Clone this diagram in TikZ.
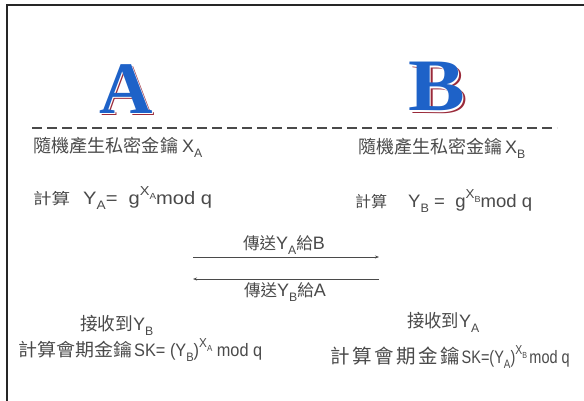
\documentclass[tikz,border=0pt]{standalone}
\usepackage{fontspec}
\usepackage{graphicx}
\setmainfont{Liberation Sans}
\newfontfamily\cjk{Noto Sans CJK TC}
\newfontfamily\bigserif{Liberation Serif}
\definecolor{txt}{HTML}{4A4A4A}
\definecolor{letterblue}{HTML}{1E62C8}
\definecolor{lettershadow}{HTML}{9A2A3A}
\definecolor{dashgray}{HTML}{4A4A4A}
\newcommand{\sbs}[1]{\raisebox{-0.28em}{\scalebox{0.68}{#1}}}
\newcommand{\sps}[1]{\raisebox{0.5em}{\scalebox{0.72}{#1}}}
\newcommand{\fit}[2]{\resizebox{#1}{\height}{#2}}
\newcommand{\bigletter}[2]{\rlap{\hspace{2.6pt}\raisebox{-2.6pt}{\textcolor{lettershadow}{\scalebox{#2}[1]{#1}}}}\rlap{\hspace{1.2pt}\raisebox{-1.2pt}{\textcolor{white}{\scalebox{#2}[1]{#1}}}}\textcolor{letterblue}{\scalebox{#2}[1]{#1}}}
\usetikzlibrary{arrows.meta}
\tikzset{
  txtnode/.style={inner sep=0pt, anchor=west, text=txt, font=\fontsize{18}{20}\selectfont},
  letterfont/.style={inner sep=0pt, font=\fontsize{74}{74}\bigserif\bfseries},
  sendarrow/.style={draw=txt, line width=0.8pt, -{Stealth[length=4pt,width=3pt]}},
  dashline/.style={draw=dashgray, line width=2pt, dash pattern=on 10pt off 5pt},
  framestyle/.style={draw=black!85, line width=2pt}
}
\newcommand{\ck}[1]{{\cjk\fontsize{18}{20}\selectfont #1}}
\newcommand{\ckl}[1]{{\cjk\fontsize{19.5}{21}\selectfont #1}}
\newcommand{\cks}[1]{{\cjk\fontsize{15.5}{18}\selectfont #1}}
\newcommand{\ckm}[1]{{\cjk\fontsize{16.5}{18}\selectfont #1}}
\newcommand{\gapx}{\hspace{2.5pt}}
\begin{document}
\begin{tikzpicture}[x=1pt,y=-1pt]
\useasboundingbox (0,0) rectangle (584,400);
\fill[white] (0,0) rectangle (584,400);
\draw[framestyle] (6.5,410) -- (6.5,4.5) -- (600,4.5);

% big letters
\node[letterfont] (letA) at (126,90) {\bigletter{A}{1}};
\node[letterfont] (letB) at (437,88) {\bigletter{B}{1.15}};

% dashed line
\coordinate (d1) at (32,128);
\coordinate (d2) at (557,128);
\draw[dashline] (d1) -- (d2);

% A side
\node[txtnode] (xa) at (33,147) {\fit{145pt}{\ck{隨機產生私密金鑰}}\hspace{4pt}X\sbs{A}};
\node[txtnode] (ya) at (33,198) {\fit{37pt}{\cks{計算}}\hspace{13pt}\fit{129pt}{Y\sbs{A}=\ \ g\sps{X\sbs{A}}mod q}};

% B side
\node[txtnode] (xb) at (358,148) {\fit{144pt}{\ck{隨機產生私密金鑰}}\hspace{3pt}X\sbs{B}};
\node[txtnode] (yb) at (355,201) {\fit{32pt}{\cks{計算}}\hspace{21pt}\fit{124pt}{Y\sbs{B} =\ \ g\sps{X\sbs{B}}mod q}};

% arrows
\coordinate (a1) at (193,257);
\coordinate (a2) at (379,257);
\coordinate (b1) at (379,279);
\coordinate (b2) at (193,279);
\draw[sendarrow] (a1) -- (a2);
\draw[sendarrow] (b1) -- (b2);
\node[txtnode, anchor=center] (ta) at (284,245) {\ckm{傳送}Y\sbs{A}\ckm{給}B};
\node[txtnode, anchor=center] (tb) at (285,292) {\ckm{傳送}Y\sbs{B}\ckm{給}A};

% bottom
\node[txtnode] (ra) at (80,325) {\fit{53pt}{\ck{接收到}}Y\sbs{B}};
\node[txtnode] (ska) at (18,350) {\fit{114pt}{\ck{計算會期金鑰}}\hspace{2pt}\fit{128pt}{SK= (Y\sbs{B})\sps{X\sbs{A}} mod q}};
\node[txtnode] (rb) at (407,322) {\fit{52pt}{\ck{接收到}}Y\sbs{A}};
\node[txtnode] (skb) at (330,357) {\ckl{計\gapx 算\gapx 會\gapx 期\gapx 金\gapx 鑰}\hspace{2pt}\fit{108pt}{SK=(Y\sbs{A})\sps{X\sbs{B}}\,mod q}};
\end{tikzpicture}
\end{document}
